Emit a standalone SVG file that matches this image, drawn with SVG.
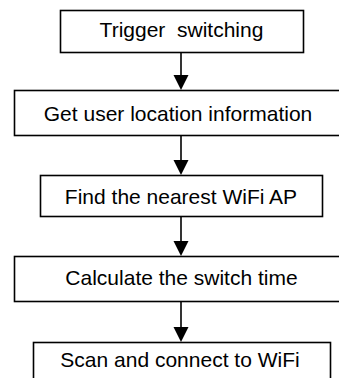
<svg xmlns="http://www.w3.org/2000/svg" width="339" height="378" viewBox="0 0 339 378">
<style>
.box{fill:#fff;stroke:#000;stroke-width:1.6}
.t{font-family:"Liberation Sans",Arial,sans-serif;font-size:21px;fill:#000;text-anchor:middle;white-space:pre}
.c{stroke:#000;stroke-width:1.6;fill:none}
.h{fill:#000}
</style>
<rect width="339" height="378" fill="#fff"/>
<g id="connectors">
<line class="c" x1="181" y1="52" x2="181" y2="76"/>
<polygon class="h" points="173.5,75 188.5,75 181,90"/>
<line class="c" x1="181" y1="135" x2="181" y2="161"/>
<polygon class="h" points="173.5,160 188.5,160 181,175"/>
<line class="c" x1="181" y1="217" x2="181" y2="242"/>
<polygon class="h" points="173.5,241 188.5,241 181,256"/>
<line class="c" x1="181" y1="301" x2="181" y2="328"/>
<polygon class="h" points="173.5,327 188.5,327 181,342"/>
</g>
<g id="n1"><rect class="box" x="60.5" y="10.5" width="243" height="42"/><text class="t" x="181.5" y="37">Trigger  switching</text></g>
<g id="n2"><rect class="box" x="14.5" y="90.5" width="330" height="45"/><text class="t" x="178" y="121">Get user location information</text></g>
<g id="n3"><rect class="box" x="40.5" y="175.5" width="282" height="41"/><text class="t" x="181" y="204">Find the nearest WiFi AP</text></g>
<g id="n4"><rect class="box" x="14.5" y="256.5" width="330" height="45"/><text class="t" x="181.5" y="285">Calculate the switch time</text></g>
<g id="n5"><rect class="box" x="33.5" y="342.5" width="297" height="45"/><text class="t" x="180" y="367">Scan and connect to WiFi</text></g>
</svg>
